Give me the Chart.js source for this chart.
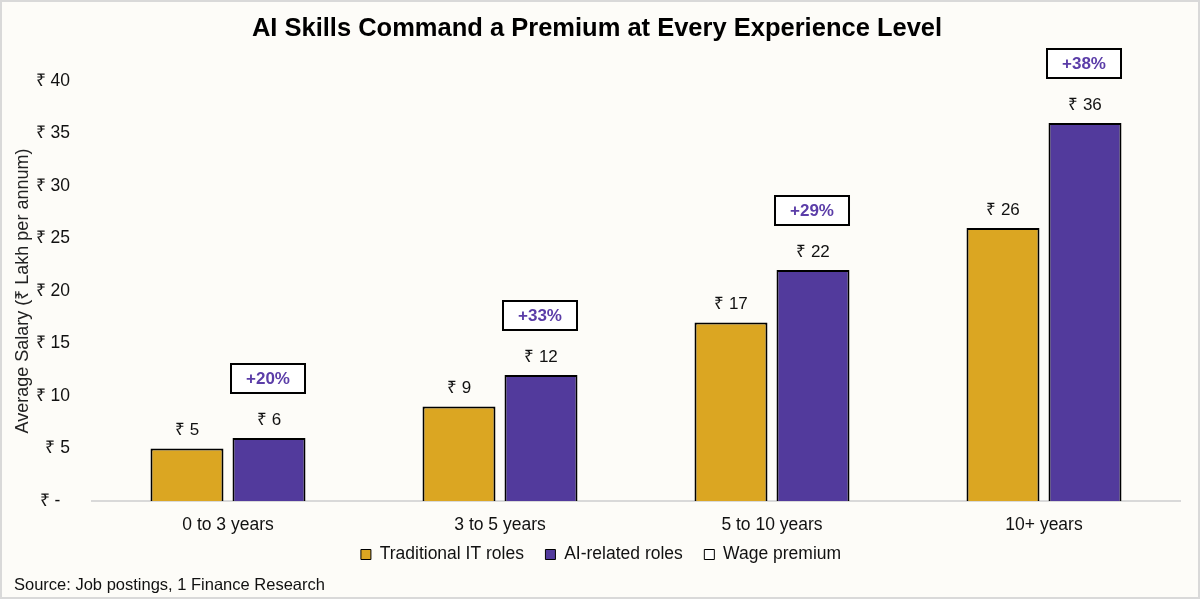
<!DOCTYPE html>
<html>
<head>
<meta charset="utf-8">
<script src="https://cdn.jsdelivr.net/npm/chart.js@4.4.1/dist/chart.umd.min.js"></script>
<style>
  html, body { margin: 0; padding: 0; background: #fdfcf8; }
  #wrap { width: 1200px; height: 599px; position: relative; }
</style>
</head>
<body>
<div id="wrap"><canvas id="c"></canvas></div>
<script>
const categories = ['0 to 3 years', '3 to 5 years', '5 to 10 years', '10+ years'];
const traditionalIT = [5, 9, 17, 26];
const aiRelated = [6, 12, 22, 36];
const wagePremium = [20, 33, 29, 38];
const yTickValues = [0, 5, 10, 15, 20, 25, 30, 35, 40];
const yTickLabels = ['₹ -  ', '₹ 5', '₹ 10', '₹ 15', '₹ 20', '₹ 25', '₹ 30', '₹ 35', '₹ 40'];

const FONT = "'Liberation Sans', Arial, sans-serif";
const GOLD = '#dba622';
const PURPLE = '#523a9c';
const PREMIUM_TEXT = '#5b3da8';
const BG = '#fdfcf8';

const decorPlugin = {
  id: 'decor',
  beforeDraw(chart) {
    const ctx = chart.ctx;
    ctx.save();
    ctx.fillStyle = BG;
    ctx.fillRect(0, 0, chart.width, chart.height);
    ctx.restore();
  },
  afterLayout(chart) {
    // nudge the legend row up/right into the reference position
    const lg = chart.legend;
    if (lg) {
      const dy = -16.75, dx = 4, h = 50;
      lg.top += dy;
      lg.bottom = lg.top + h;
      lg.height = h;
      lg.left += dx; lg.right += dx;
    }
  },
  afterDatasetsDraw(chart) {
    const ctx = chart.ctx;
    ctx.save();
    [0, 1].forEach(di => {
      const meta = chart.getDatasetMeta(di);
      const ds = chart.data.datasets[di];
      meta.data.forEach((bar, i) => {
        ctx.font = '17px ' + FONT;
        ctx.fillStyle = '#111';
        ctx.textAlign = 'center';
        ctx.textBaseline = 'middle';
        ctx.fillText('₹ ' + ds.data[i], bar.x, bar.y - 18);
      });
    });
    const aiMeta = chart.getDatasetMeta(1);
    const prem = chart.data.datasets[2].data;
    aiMeta.data.forEach((bar, i) => {
      const w = 74, h = 29;
      const cy = bar.y - 59.5;
      const x0 = bar.x - w / 2 - 1, y0 = cy - h / 2;
      ctx.fillStyle = '#ffffff';
      ctx.fillRect(x0, y0, w, h);
      ctx.strokeStyle = '#000';
      ctx.lineWidth = 2;
      ctx.strokeRect(x0, y0, w, h);
      ctx.font = 'bold 17px ' + FONT;
      ctx.fillStyle = PREMIUM_TEXT;
      ctx.textAlign = 'center';
      ctx.textBaseline = 'middle';
      ctx.fillText('+' + prem[i] + '%', x0 + w / 2, cy + 1);
    });
    ctx.restore();
  },
  afterDraw(chart) {
    const ctx = chart.ctx;
    ctx.save();
    ctx.strokeStyle = '#d9d9d9';
    ctx.lineWidth = 2;
    ctx.strokeRect(1, 1, chart.width - 2, chart.height - 2);
    ctx.restore();
  }
};

new Chart(document.getElementById('c'), {
  type: 'bar',
  data: {
    labels: categories,
    datasets: [
      {
        label: 'Traditional IT roles',
        data: traditionalIT,
        backgroundColor: GOLD,
        borderColor: '#000',
        borderWidth: 2,
        categoryPercentage: 0.603,
        barPercentage: 0.89
      },
      {
        label: 'AI-related roles',
        data: aiRelated,
        backgroundColor: PURPLE,
        borderColor: '#000',
        borderWidth: 2,
        categoryPercentage: 0.603,
        barPercentage: 0.89
      },
      {
        type: 'line',
        label: 'Wage premium',
        data: wagePremium,
        yAxisID: 'yp',
        showLine: false,
        pointRadius: 0,
        pointHoverRadius: 0,
        backgroundColor: '#ffffff',
        borderColor: '#000',
        borderWidth: 1
      }
    ]
  },
  options: {
    responsive: true,
    maintainAspectRatio: false,
    devicePixelRatio: 1,
    animation: false,
    layout: { padding: { left: 14, right: 20, top: 0, bottom: 2 } },
    plugins: {
      title: {
        display: true,
        text: 'AI Skills Command a Premium at Every Experience Level',
        color: '#000',
        font: { family: FONT, size: 25.5, weight: 'bold' },
        padding: { top: 13.2, bottom: 37.2 }
      },
      subtitle: {
        display: true,
        position: 'bottom',
        align: 'start',
        text: 'Source: Job postings, 1 Finance Research',
        color: '#111',
        font: { family: FONT, size: 16.5 },
        padding: { top: 3, bottom: 1.5 }
      },
      legend: {
        position: 'bottom',
        maxHeight: 31.7,
        labels: {
          boxWidth: 10,
          boxHeight: 10,
          padding: 21.5,
          color: '#111',
          font: { family: FONT, size: 17.5 },
          generateLabels(chart) {
            return chart.data.datasets.map((ds, i) => ({
              text: ds.label,
              fillStyle: ds.backgroundColor,
              strokeStyle: '#000',
              lineWidth: 1,
              hidden: false,
              datasetIndex: i,
              fontColor: '#111'
            }));
          }
        }
      },
      tooltip: { enabled: false }
    },
    scales: {
      x: {
        grid: { display: false, tickLength: 8 },
        border: { display: true, color: '#d9d9d9', width: 2 },
        ticks: { color: '#111', font: { family: FONT, size: 17.5 }, padding: 5.5 }
      },
      y: {
        min: 0,
        max: 40,
        grid: { display: false },
        border: { display: false },
        afterFit(scale) { scale.width = 78; },
        afterBuildTicks(scale) { scale.ticks = yTickValues.map(v => ({ value: v })); },
        ticks: {
          color: '#111',
          font: { family: FONT, size: 17.5 },
          padding: 14,
          callback(value) {
            const idx = yTickValues.indexOf(value);
            return idx >= 0 ? yTickLabels[idx] : '';
          }
        },
        title: {
          display: true,
          text: 'Average Salary (₹ Lakh per annum)',
          color: '#222',
          font: { family: FONT, size: 18, lineHeight: 1 },
          padding: { top: 0, bottom: 0 }
        }
      },
      yp: { display: false, min: 0, max: 100 }
    }
  },
  plugins: [decorPlugin]
});
</script>
</body>
</html>
